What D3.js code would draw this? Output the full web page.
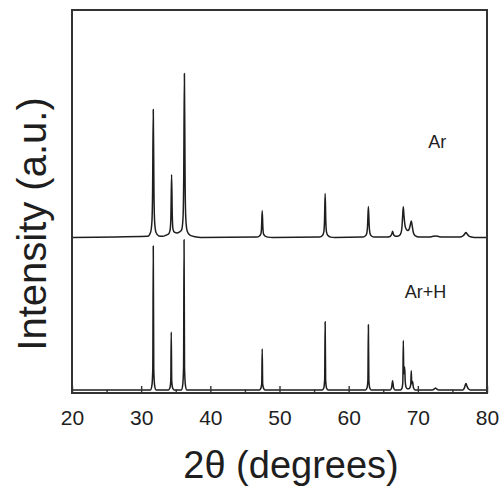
<!DOCTYPE html>
<html>
<head>
<meta charset="utf-8">
<script src="https://cdn.jsdelivr.net/npm/d3@7"></script>
<style>
  body { margin: 0; background: #fff; }
  text { font-family: "Liberation Sans", Arial, sans-serif; fill: #1e1e1e; }
</style>
</head>
<body>
<div id="chart"></div>
<script>
// 2theta ticks
const majorTicks = [20, 30, 40, 50, 60, 70, 80];
const minorTicks = [25, 35, 45, 55, 65, 75];

// series: [2theta, intensity above its own baseline]
const arPoints = [
  [20, 0], [30.95, 3], [31.35, 13], [31.55, 40], [31.65, 117], [31.75, 334], [31.85, 117], [31.95, 40],
  [32.15, 13], [32.55, 4], [33.1, 3], [33.6, 6], [34.0, 10], [34.2, 22], [34.3, 57], [34.4, 164],
  [34.5, 57], [34.6, 22], [34.8, 14], [35.2, 12], [35.5, 14], [35.85, 20], [36.05, 51], [36.15, 150],
  [36.25, 428], [36.35, 150], [36.45, 51], [36.65, 17], [37.05, 6], [37.8, 2], [38.6, 0],
  [46.7, 1], [47.1, 4], [47.3, 9], [47.4, 25], [47.5, 70], [47.6, 25], [47.7, 9], [47.9, 4], [48.3, 1], [49, 0],
  [55.8, 1], [56.2, 5], [56.4, 14], [56.5, 40], [56.6, 115], [56.7, 40], [56.8, 14], [57.0, 5], [57.4, 1], [58, 0],
  [62.0, 1], [62.4, 4], [62.6, 10], [62.73, 30], [62.85, 81], [62.97, 30], [63.1, 10], [63.3, 4], [63.7, 1], [65.5, 1],
  [65.9, 2], [66.15, 6], [66.25, 10], [66.35, 16], [66.45, 10], [66.6, 5], [66.9, 3], [67.3, 5],
  [67.55, 11], [67.7, 26], [67.8, 55], [67.9, 80], [68.0, 56], [68.15, 31], [68.35, 21], [68.55, 18],
  [68.75, 22], [68.9, 32], [69.05, 43], [69.2, 29], [69.35, 13], [69.6, 5], [70.2, 1],
  [71.6, 1], [72.2, 3], [72.55, 4], [72.9, 3], [73.5, 1], [75.8, 1],
  [76.3, 2], [76.6, 5], [76.8, 10], [76.95, 13], [77.1, 10], [77.3, 5], [77.6, 2], [78.2, 0], [80, 0]
];

const arhPoints = [
  [20, 0], [31.35, 0], [31.55, 11], [31.68, 56], [31.75, 376], [31.82, 56], [31.95, 11], [32.15, 0],
  [33.95, 0], [34.15, 5], [34.28, 23], [34.35, 151], [34.42, 23], [34.55, 5], [34.75, 0],
  [35.8, 0], [36.0, 12], [36.13, 59], [36.2, 392], [36.27, 59], [36.4, 12], [36.6, 0],
  [47.1, 0], [47.3, 4], [47.43, 16], [47.5, 107], [47.57, 16], [47.7, 4], [47.9, 0],
  [56.2, 0], [56.4, 5], [56.53, 27], [56.6, 178], [56.67, 27], [56.8, 5], [57.0, 0],
  [62.45, 0], [62.65, 5], [62.78, 26], [62.85, 170], [62.92, 26], [63.05, 5], [63.25, 0],
  [66.0, 0], [66.2, 5], [66.35, 24], [66.5, 5], [66.7, 0],
  [67.5, 0], [67.7, 4], [67.83, 20], [67.9, 129], [67.97, 42], [68.05, 58], [68.1, 60], [68.17, 25],
  [68.3, 7], [68.5, 3], [68.7, 3], [68.9, 8], [68.98, 15], [69.05, 50], [69.12, 16], [69.2, 20],
  [69.25, 22], [69.35, 7], [69.6, 0],
  [72.1, 0], [72.4, 3], [72.55, 5], [72.7, 3], [73.0, 0],
  [76.5, 0], [76.75, 6], [76.9, 15], [76.97, 17], [77.1, 10], [77.3, 3], [77.6, 0], [80, 0]
];

const series = [
  { name: "Ar", points: arPoints, offset: 406, labelAt: [72.8, 640] },
  { name: "Ar+H", points: arhPoints, offset: 8, labelAt: [71.1, 248] }
];

const W = 501, H = 491;
const margin = { top: 10, right: 14, bottom: 98, left: 72 };
const width = W - margin.left - margin.right;
const height = H - margin.top - margin.bottom;

const svg = d3.select("#chart")
  .append("svg")
  .attr("width", W)
  .attr("height", H)
  .append("g")
  .attr("transform", "translate(" + margin.left + "," + margin.top + ")");

const x = d3.scaleLinear().domain([20, 80]).range([0, width]);
const y = d3.scaleLinear().domain([0, 1000]).range([height, 0]);

// traces
const line = d3.line().curve(d3.curveMonotoneX);
series.forEach(s => {
  line.x(d => x(d[0])).y(d => y(d[1] + s.offset));
  svg.append("path")
    .datum(s.points)
    .attr("d", line)
    .attr("fill", "none")
    .attr("stroke", "#1e1e1e")
    .attr("stroke-width", 1.5)
    .attr("stroke-linejoin", "round");
  svg.append("text")
    .attr("x", x(s.labelAt[0]))
    .attr("y", y(s.labelAt[1]))
    .attr("text-anchor", "middle")
    .style("font-size", "18px")
    .text(s.name);
});

// bottom axis: ticks point inward
const minorAxis = d3.axisBottom(x).tickValues(minorTicks).tickSize(-3.5).tickFormat("");
const majorAxis = d3.axisBottom(x).tickValues(majorTicks).tickSize(-7).tickPadding(17).tickFormat(d3.format("d"));

svg.append("g")
  .attr("transform", "translate(0," + height + ")")
  .call(minorAxis)
  .call(g => g.select(".domain").remove())
  .call(g => g.selectAll("line").attr("stroke", "#333").attr("stroke-width", 1.4));

svg.append("g")
  .attr("transform", "translate(0," + height + ")")
  .call(majorAxis)
  .call(g => g.select(".domain").remove())
  .call(g => g.selectAll("line").attr("stroke", "#333").attr("stroke-width", 1.4))
  .call(g => g.selectAll("text")
    .style("font-family", "'Liberation Sans', Arial, sans-serif")
    .style("font-size", "21px")
    .attr("fill", "#1e1e1e"));

// frame
svg.append("rect")
  .attr("x", 0).attr("y", 0)
  .attr("width", width).attr("height", height)
  .attr("fill", "none")
  .attr("stroke", "#333")
  .attr("stroke-width", 2);

// axis titles
svg.append("text")
  .attr("x", 291 - margin.left)
  .attr("y", 478 - margin.top)
  .attr("text-anchor", "middle")
  .style("font-size", "38px")
  .text("2\u03b8 (degrees)");

svg.append("text")
  .attr("transform", "rotate(-90)")
  .attr("x", -(224 - margin.top))
  .attr("y", 46 - margin.left)
  .attr("text-anchor", "middle")
  .style("font-size", "40px")
  .text("Intensity (a.u.)");
</script>
</body>
</html>
